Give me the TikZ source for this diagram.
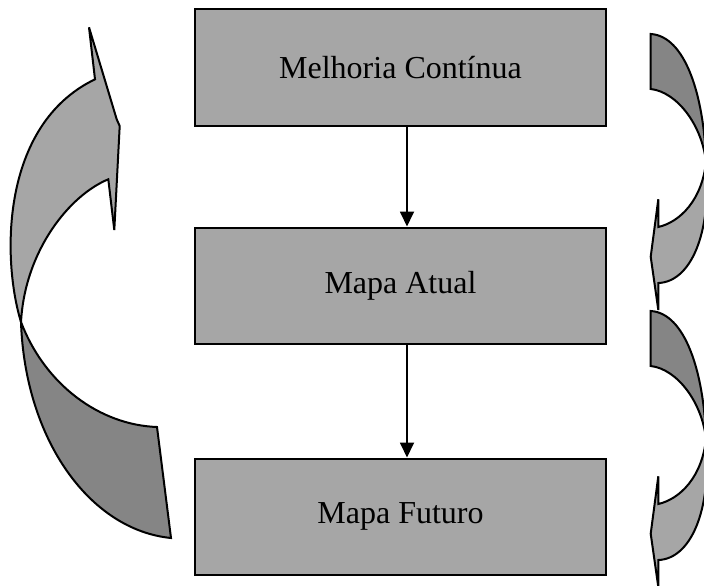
\documentclass[tikz,border=0pt]{standalone}
\usepackage{fontspec}
\setmainfont{Liberation Serif}
\usetikzlibrary{arrows.meta}
\definecolor{lightg}{HTML}{A6A6A6}
\definecolor{darkg}{HTML}{858585}
\begin{document}
\begin{tikzpicture}[x=1pt,y=-1pt,
  boxnode/.style={draw=black,line width=2pt,fill=lightg,minimum width=411pt,minimum height=116pt,inner sep=0pt,font=\fontsize{32}{36}\selectfont},
  flowarrow/.style={line width=1.8pt,-{Triangle[length=15pt,width=14pt]}},
  ribbon/.style={draw=black,line width=2pt,line join=miter}]
\useasboundingbox (0,0) rectangle (704,586);
\clip (0,0) rectangle (704,586);
\node[boxnode] (b1) at (400.5,67.5) {Melhoria Contínua};
\node[boxnode] (b2) at (400.5,285.5) {Mapa Atual};
\node[boxnode] (b3) at (400.5,516.5) {Mapa Futuro};
\draw[flowarrow] ([xshift=6.5pt]b1.south) -- ([xshift=6.5pt]b2.north);
\draw[flowarrow] ([xshift=6.5pt]b2.south) -- ([xshift=6.5pt]b3.north);
% left ribbon arrow
\draw[ribbon,fill=darkg] (21,322) .. controls (45,385) and (100,425) .. (157,427)
  -- (171,538) .. controls (90,530) and (25,440) .. (21,322) -- cycle;
\draw[ribbon,fill=lightg] (21,322) .. controls (2,260) and (0,125) .. (95,79.3)
  -- (89,27.3) -- (116.7,119.3) -- (119.7,126) -- (114.3,230) -- (108.3,179.3)
  .. controls (70,195) and (25,250) .. (21,322) -- cycle;
% right ribbon arrows
\foreach \dy in {0,277}{
\begin{scope}[yshift=-\dy pt]
\draw[ribbon,fill=darkg] (650.7,34) -- (650.7,89) .. controls (677,92) and (702,125) .. (706,162)
  .. controls (704,95) and (685,36) .. (650.7,34) -- cycle;
\draw[ribbon,fill=lightg] (658.3,199.3) -- (658.3,227) .. controls (680,222) and (702,200) .. (706,162)
  .. controls (712,235) and (690,282) .. (658.3,283) -- (658.3,310) -- (650.7,256.7) -- cycle;
\end{scope}}
\end{tikzpicture}
\end{document}
